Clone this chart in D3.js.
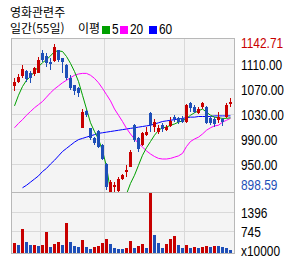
<!DOCTYPE html>
<html lang="ko">
<head>
<meta charset="UTF-8">
<title>영화관련주</title>
<script src="https://d3js.org/d3.v7.min.js"></script>
<style>
    body { margin: 0; background: #fff; }
    svg text { font-family: "Liberation Sans Narrow", "Liberation Sans", Arial, sans-serif; font-size: 14px; }
    svg text.kr { font-family: "Noto Sans CJK KR", sans-serif; font-size: 12px; }
</style>
</head>
<body>
<svg width="292" height="260"></svg>
<script>
// daily prices, 55 sessions
const opens  = [1075,1082,1091,1099,1096,1094,1096,1127,1123,1114,1115,1132,1119,1109,1088,1076,1072,1008,1035,1007,
                991,1003,981,950,904,913,907,926,938,946,1012,991,980,996,1031,1009,1001,1012,1005,1011,
                1025,1024,1024,1017,1048,1042,1031,1041,1042,1024,1022,1020,1022,1026,1046];
const highs  = [1087,1094,1108,1100,1099,1106,1121,1132,1127,1119,1142.71,1133,1120,1110,1093,1077,1074,1038,1036,1008,
                994,1004,982,951,925,921,929,934,948,972,1014,994,1001,1009,1033,1022,1012,1016,1013,1026,
                1029,1026,1027,1046,1050,1044,1041,1050,1043,1026,1025,1033,1024,1048,1056];
const lows   = [1067,1079,1088,1082,1080,1091,1095,1114,1106,1100,1114,1114,1096,1085,1069,1060,1058,1008,1026,988,
                980,975,956,908,898.59,903,906,925,930,945,986,969,979,995,1001,1002,998,1002,1003,1010,
                1018,1014,1016,1016,1034,1032,1030,1038,1014,1013,1010,1016,1011,1024,1041];
const closes = [1082,1090,1102,1086,1088,1103,1116,1116,1111,1110,1138,1116,1113,1088,1072,1067,1064,1033,1028,991,
                983,977,958,914,921,916,926,932,940,970,988,974,999,1001,1012,1017,1008,1006,1010,1019,
                1022,1017,1018,1045,1040,1034,1038,1047,1016,1016,1014,1026,1017,1045,1049];
// volume, x10000 shares
const volumes = [343,275,824,378,275,285,240,275,732,206,309,378,275,1041,378,240,206,446,206,137,
                 206,240,343,481,309,172,137,130,172,412,172,240,309,172,2060,618,343,172,309,481,
                 584,275,172,275,172,206,172,206,240,206,240,235,206,172,103];
// moving averages as drawn
const ma5  = [1043,1060,1074,1084,1090,1098,1106,1112,1117,1123,1130,1131,1130,1122,1111,1098,1082,1060,1038,1016,
              1002,990,971,946,906,893,888,892,902,919,932,948,964,976,986,996,1004,1008,1009,1012,
              1014,1017,1019,1023,1028,1032,1035,1038,1033,1028,1025,1024,1023,1023,1024];
const ma20 = [1008,1015,1021,1028,1034,1040,1045,1050,1057,1064,1070,1075,1080,1084,1088,1092,1094,1095,1095,1092,
              1087,1080,1071,1061,1051,1038,1028,1018,1007,998,990,983,977,971,966,962,959,958,958,959,
              961,963,967,978,986,990,993,998,1004,1008,1011,1012,1017,1020,1023];
const ma60 = [null,null,912,916,921,926,931,938,943,950,956,963,970,975,980,985,989,991,993,995,
              997,999,1000,1001,1002,1003,1004,1005,1006,1007,1008,1009,1010,1011,1012,1014,1016,1018,1019,1020,
              1021,1022,1023,1024,1025,1025,1026,1026,1026,1026,1027,1027,1027,1027,1027];

const priceTicks = [1110, 1070, 1030, 990, 950];
const volumeTicks = [1396, 745];
const monthStarts = [7, 23, 43];
const priceHigh = 1142.71;
const priceLow = 898.59;

const red = "#c80000";
const blue = "#1e4fb8";
const grid = "#d9d9d9";

const svg = d3.select("svg");
const days = d3.range(closes.length);

const plotLeft = 11, plotRight = 234, plotTop = 38, split = 192, plotBottom = 253;

const x = d3.scaleBand().domain(days).range([12, 232]);
const yP = d3.scaleLinear().domain([905.2, 1150]).range([split, 39]);
const yV = d3.scaleLinear().domain([0, 2094]).range([plotBottom, split]);
const cx = i => x(i) + 2.5;

// plot background
svg.append("rect")
    .attr("x", plotLeft).attr("y", plotTop)
    .attr("width", plotRight - plotLeft).attr("height", plotBottom - plotTop)
    .attr("fill", "#f4f4f4");

svg.append("clipPath").attr("id", "clipPrice")
    .append("rect").attr("x", plotLeft + 1).attr("y", plotTop + 1)
    .attr("width", plotRight - plotLeft - 1).attr("height", split - plotTop - 1);

// grid
const g = svg.append("g").attr("shape-rendering", "crispEdges");
g.selectAll(".vgrid").data(monthStarts).enter().append("line")
    .attr("x1", d => x(d) + 0.5).attr("x2", d => x(d) + 0.5)
    .attr("y1", plotTop).attr("y2", plotBottom)
    .attr("stroke", grid);
g.selectAll(".pgrid").data(priceTicks).enter().append("line")
    .attr("x1", plotLeft).attr("x2", plotRight)
    .attr("y1", d => Math.round(yP(d)) + 0.5).attr("y2", d => Math.round(yP(d)) + 0.5)
    .attr("stroke", grid);
g.selectAll(".vvgrid").data(volumeTicks).enter().append("line")
    .attr("x1", plotLeft).attr("x2", plotRight)
    .attr("y1", d => Math.round(yV(d)) + 0.5).attr("y2", d => Math.round(yV(d)) + 0.5)
    .attr("stroke", grid);

// frame
const frame = svg.append("g").attr("shape-rendering", "crispEdges").attr("stroke", "#b8b8b8");
frame.append("line").attr("x1", plotLeft + 0.5).attr("x2", plotLeft + 0.5).attr("y1", plotTop).attr("y2", plotBottom + 1);
frame.append("line").attr("x1", plotRight + 0.5).attr("x2", plotRight + 0.5).attr("y1", plotTop).attr("y2", plotBottom + 1);
frame.append("line").attr("x1", plotLeft).attr("x2", plotRight + 1).attr("y1", plotTop + 0.5).attr("y2", plotTop + 0.5);
frame.append("line").attr("x1", plotLeft).attr("x2", plotRight + 1).attr("y1", split + 0.5).attr("y2", split + 0.5);
frame.append("line").attr("x1", plotLeft).attr("x2", plotRight + 1).attr("y1", plotBottom + 0.5).attr("y2", plotBottom + 0.5);

const price = svg.append("g").attr("clip-path", "url(#clipPrice)");

// moving averages
const maLine = d3.line()
    .defined(d => d != null)
    .x((d, i) => cx(i))
    .y(d => yP(d));

[[ma60, "#0000ff"], [ma20, "#ff00ff"], [ma5, "#00a000"]].forEach(([data, color]) => {
    price.append("path")
        .datum(data)
        .attr("d", maLine)
        .attr("fill", "none")
        .attr("stroke", color)
        .attr("stroke-width", 1);
});

// candles
const candles = price.selectAll(".candle").data(days).enter().append("g")
    .attr("class", "candle")
    .attr("shape-rendering", "crispEdges");
candles.append("line")
    .attr("x1", cx).attr("x2", cx)
    .attr("y1", i => yP(highs[i])).attr("y2", i => yP(lows[i]))
    .attr("stroke", i => closes[i] >= opens[i] ? red : blue);
candles.append("rect")
    .attr("x", i => x(i) + 1)
    .attr("width", 3)
    .attr("y", i => yP(Math.max(opens[i], closes[i])))
    .attr("height", i => Math.max(1, Math.abs(yP(opens[i]) - yP(closes[i]))))
    .attr("fill", i => closes[i] >= opens[i] ? red : blue);

// volume bars: red when volume rises over the day before
svg.append("g").attr("shape-rendering", "crispEdges")
    .selectAll("rect").data(days).enter().append("rect")
    .attr("x", i => x(i) + 1)
    .attr("width", 3)
    .attr("y", i => yV(volumes[i]))
    .attr("height", i => plotBottom - yV(volumes[i]))
    .attr("fill", i => (i === 0 || volumes[i] > volumes[i - 1]) ? red : blue);

// right labels, narrow digits
const narrow = (sel, lx, ly) => sel.attr("transform", `translate(${lx},${ly}) scale(0.85,1)`);
const labels = svg.append("g").attr("dominant-baseline", "central");
narrow(labels.append("text"), 241, Math.max(yP(priceHigh), 42))
    .attr("fill", red).text(priceHigh.toFixed(2));
priceTicks.forEach(d => {
    narrow(labels.append("text"), 241, yP(d) + 1).attr("fill", "#000").text(d.toFixed(2));
});
narrow(labels.append("text"), 241, Math.min(yP(priceLow), 185))
    .attr("fill", blue).text(priceLow.toFixed(2));
volumeTicks.forEach(d => {
    narrow(labels.append("text"), 241, yV(d) + 0.5).attr("fill", "#000").text(d);
});
narrow(labels.append("text"), 241, 251.5).attr("fill", "#000").text("x10000");

// header
svg.append("text").attr("class", "kr").attr("x", 10).attr("y", 17).text("영화관련주");
svg.append("text").attr("class", "kr").attr("x", 10).attr("y", 33).text("일간(55일)");
svg.append("text").attr("class", "kr").attr("x", 78).attr("y", 33).text("이평");

const legend = [["5", "#00a000", 102], ["20", "#ff00ff", 120], ["60", "#0000ff", 149]];
legend.forEach(([label, color, lx]) => {
    svg.append("rect").attr("x", lx).attr("y", 26).attr("width", 8).attr("height", 8).attr("fill", color);
    narrow(svg.append("text"), lx + 10, 33.5).text(label);
});
</script>
</body>
</html>
